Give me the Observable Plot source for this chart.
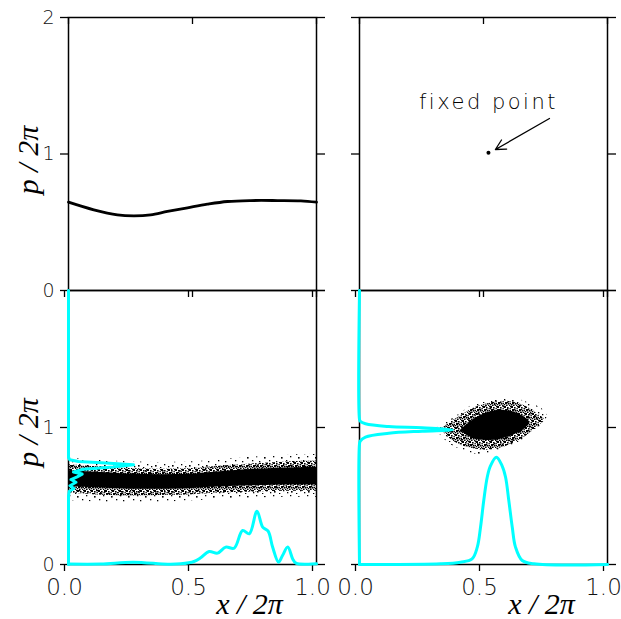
<!DOCTYPE html>
<html><head><meta charset="utf-8">
<script src="https://cdn.jsdelivr.net/npm/d3@7"></script>
<script src="https://cdn.jsdelivr.net/npm/@observablehq/plot@0.6"></script>
<style>
html,body{margin:0;padding:0;background:#fff;}
#chart{position:relative;width:621px;height:619px;}
#chart svg{position:absolute;left:0;top:0;overflow:visible;}
</style></head><body><div id="chart"></div>
<script>
const W = 621, H = 619;

// ticks
const xTicks = [0, 0.5, 1];
const xTickLabels = ["0.0", "0.5", "1.0"];
const yTicksTop = [0, 1, 2];
const yTicksBottom = [0, 1];
const yTickLabels = ["0", "1", "2"];
const yTitle = "p / 2π";
const xTitle = "x / 2π";

// top-left: invariant curve
const curveX = [0, 0.102, 0.197, 0.264, 0.331, 0.399, 0.48, 0.56, 0.641, 0.735, 0.843, 0.937, 1.0];
const curveP = [0.647, 0.591, 0.554, 0.547, 0.554, 0.579, 0.606, 0.632, 0.652, 0.659, 0.659, 0.657, 0.647];

// top-right: fixed point annotation
const fixedLabel = ["fixed point"];
const fixedX = [0.52];
const fixedP = [1.01];
const arrowFromX = [0.766], arrowFromP = [1.26];
const arrowToX = [0.548], arrowToP = [1.033];

// bottom-left: noisy band (outer, middle, core envelopes)
const bandX    = [0, 0.1, 0.25, 0.4, 0.5, 0.6, 0.75, 0.9, 1];
const bandOutHi = [0.78, 0.765, 0.75, 0.745, 0.75, 0.765, 0.785, 0.80, 0.805];
const bandOutLo = [0.465, 0.455, 0.445, 0.455, 0.465, 0.475, 0.485, 0.49, 0.49];
const bandMidHi = [0.73, 0.715, 0.70, 0.695, 0.70, 0.715, 0.735, 0.75, 0.755];
const bandMidLo = [0.52, 0.51, 0.50, 0.505, 0.51, 0.52, 0.53, 0.535, 0.535];
const bandCoreHi = [0.685, 0.675, 0.66, 0.655, 0.66, 0.675, 0.695, 0.705, 0.71];
const bandCoreLo = [0.565, 0.56, 0.55, 0.55, 0.555, 0.565, 0.575, 0.58, 0.58];

// bottom-left marginals
const margLX = [0, 0.13, 0.26, 0.40, 0.4525, 0.506, 0.533, 0.567, 0.601, 0.634, 0.668, 0.702, 0.729, 0.760, 0.783, 0.805, 0.823, 0.847, 0.863, 0.884, 0.904, 0.917, 0.964, 1.0];
const margLXd = [0.003, 0.003, 0.017, 0.002, 0.005, 0.022, 0.049, 0.095, 0.083, 0.127, 0.119, 0.248, 0.224, 0.389, 0.273, 0.243, 0.127, 0.017, 0.066, 0.127, 0.041, 0.010, 0.002, 0.005];
const margLP = [0, 0.50, 0.535, 0.555, 0.575, 0.60, 0.62, 0.64, 0.66, 0.675, 0.695, 0.712, 0.728, 0.74, 0.752, 0.765, 0.78, 2];
const margLPd = [0, 0, 0.003, 0.022, 0.006, 0.03, 0.01, 0.035, 0.055, 0.02, 0.06, 0.18, 0.262, 0.15, 0.04, 0.005, 0, 0];

// bottom-right: cloud around fixed point
const cloudOutX  = [0.306, 0.333, 0.372, 0.42, 0.454, 0.52, 0.59, 0.64, 0.683, 0.737, 0.757];
const cloudOutHi = [0.99, 1.025, 1.06, 1.12, 1.16, 1.19, 1.21, 1.205, 1.18, 1.135, 1.09];
const cloudOutLo = [0.99, 0.93, 0.87, 0.83, 0.81, 0.805, 0.85, 0.89, 0.935, 1.02, 1.07];
const cloudMidX  = [0.33, 0.36, 0.41, 0.46, 0.52, 0.57, 0.62, 0.67, 0.71, 0.745];
const cloudMidHi = [0.985, 1.03, 1.085, 1.14, 1.175, 1.19, 1.185, 1.155, 1.11, 1.065];
const cloudMidLo = [0.985, 0.925, 0.87, 0.845, 0.835, 0.85, 0.885, 0.935, 0.99, 1.045];
const cloudCoreX  = [0.41, 0.44, 0.48, 0.52, 0.56, 0.60, 0.64, 0.67, 0.685];
const cloudCoreHi = [0.985, 1.03, 1.08, 1.11, 1.125, 1.12, 1.10, 1.07, 1.045];
const cloudCoreLo = [0.975, 0.935, 0.91, 0.905, 0.91, 0.93, 0.96, 0.995, 1.025];

// bottom-right marginals
const margRX  = [0, 0.327, 0.407, 0.454, 0.475, 0.488, 0.501, 0.515, 0.528, 0.552, 0.575, 0.589, 0.602, 0.616, 0.629, 0.656, 0.703, 1];
const margRXd = [0, 0.005, 0.017, 0.041, 0.127, 0.272, 0.467, 0.637, 0.72, 0.783, 0.72, 0.637, 0.467, 0.272, 0.127, 0.029, 0.005, 0];
const margRP  = [0, 0.88, 0.90, 0.93, 0.958, 0.973, 0.983, 0.998, 1.007, 1.027, 1.045, 1.06, 2];
const margRPd = [0, 0, 0.003, 0.024, 0.118, 0.253, 0.374, 0.253, 0.118, 0.024, 0.003, 0, 0];

// ---- build tables ----
const zipXY = (xs, ys) => xs.map((x, i) => ({x, y: ys[i]}));
const zipBand = (xs, hi, lo) => xs.map((x, i) => ({x, y1: lo[i], y2: hi[i]}));

const CYAN = "#00ffff";
const tickFont = "DejaVu Sans";
const titleFont = "Liberation Serif";

const chart = document.getElementById("chart");

// speckle patterns for the dense scatter clouds
const defsSvg = d3.select(chart).append("svg").attr("width", 0).attr("height", 0);
const defs = defsSvg.append("defs");
function pattern(id, w, h, pts) {
  const p = defs.append("pattern").attr("id", id).attr("width", w).attr("height", h).attr("patternUnits", "userSpaceOnUse");
  pts.forEach(([x, y, s]) => p.append("rect").attr("x", x).attr("y", y).attr("width", s || 1.3).attr("height", s || 1.3).attr("fill", "#000"));
}
pattern("speckleSparse", 17, 13, [[1,1],[9,2,1.6],[4,6],[14,5],[2,10,1.6],[11,9],[7,12],[15,11]]);
pattern("speckleDense", 7, 7, [[0,0,2],[3,1,1.6],[1,3,2],[4,4,1.6],[5.5,2],[2,5.5,1.6],[0,5],[3,3],[6,0],[5,6],[6,4]]);

function frameMarks(frameW, frameH, bottomLabels, leftLabels, leftTicks) {
  return [
    Plot.frame({stroke: "black", strokeWidth: 1.5}),
    Plot.tickX(xTicks, {x: d => d, insetBottom: frameH - 7, stroke: "black", strokeWidth: 1.3}),
    Plot.axisX(xTicks, {anchor: "bottom", tickSize: 7, tickPadding: 7, strokeWidth: 1.3, dx: -4,
      tickFormat: bottomLabels ? (d => xTickLabels[xTicks.indexOf(d)]) : (() => ""),
      fontSize: 23, fontFamily: tickFont, fontWeight: 200, fill: "#111", label: null}),
    Plot.axisY(leftTicks, {anchor: "left", tickSize: 8, tickPadding: 6, strokeWidth: 1.3,
      tickFormat: leftLabels ? (d => yTickLabels[d]) : (() => ""),
      fontSize: 19, fontFamily: tickFont, fontWeight: 200, fill: "#111", label: null}),
    Plot.axisY(yTicksTop, {anchor: "right", tickSize: 8, strokeWidth: 1.3, tickFormat: () => "", label: null})
  ];
}

function panel(left, right, top, bottom, marks) {
  const svg = Plot.plot({
    width: W, height: H,
    marginLeft: left, marginRight: W - right, marginTop: top, marginBottom: H - bottom,
    x: {domain: [0, 1], axis: null},
    y: {domain: [0, 2], axis: null},
    style: {background: "transparent", overflow: "visible"},
    marks
  });
  chart.appendChild(svg);
  return svg;
}

const L = [68, 316], R = [359, 607], T = [17, 290], B = [290, 564];
const fw = 248, fhT = 273, fhB = 274;

// top-left
panel(L[0], L[1], T[0], T[1], [
  ...frameMarks(fw, fhT, false, true, yTicksTop),
  Plot.line(zipXY(curveX, curveP), {x: "x", y: "y", stroke: "black", strokeWidth: 2.8, curve: "catmull-rom"}),
  Plot.text([yTitle], {text: d => d, frameAnchor: "left", dx: -40, dy: 6, rotate: -90, fontSize: 30,
    fontStyle: "italic", fontFamily: titleFont, textAnchor: "middle", lineAnchor: "middle", fill: "#000"})
]);

// top-right
const trSvg = panel(R[0], R[1], T[0], T[1], [
  ...frameMarks(fw, fhT, false, false, yTicksTop),
  Plot.dot(zipXY(fixedX, fixedP), {x: "x", y: "y", r: 2, fill: "black", stroke: null}),
  Plot.arrow([{x1: arrowFromX[0], y1: arrowFromP[0], x2: arrowToX[0], y2: arrowToP[0]}],
    {x1: "x1", y1: "y1", x2: "x2", y2: "y2", stroke: "black", strokeWidth: 1.3, headLength: 13, headAngle: 55}),
  Plot.text(fixedLabel.map((t, i) => ({t, x: fixedX[i], y: fixedP[i]})), {x: "x", y: "y", text: "t", dx: 0, dy: -44,
    lineAnchor: "bottom", textAnchor: "middle", fontSize: 21, fontFamily: tickFont, fontWeight: 200, fill: "#000"})
]);
d3.select(trSvg).selectAll("text").filter(function() { return this.textContent === "fixed point"; })
  .attr("letter-spacing", "2.5px");

// bottom-left
panel(L[0], L[1], B[0], B[1], [
  ...frameMarks(fw, fhB, true, true, yTicksBottom),
  Plot.areaY(zipBand(bandX, bandOutHi, bandOutLo), {x: "x", y1: "y1", y2: "y2", fill: "url(#speckleSparse)", curve: "catmull-rom", clip: true}),
  Plot.areaY(zipBand(bandX, bandMidHi, bandMidLo), {x: "x", y1: "y1", y2: "y2", fill: "url(#speckleDense)", curve: "catmull-rom", clip: true}),
  Plot.areaY(zipBand(bandX, bandCoreHi, bandCoreLo), {x: "x", y1: "y1", y2: "y2", fill: "#000", curve: "catmull-rom", clip: true}),
  Plot.line(zipXY(margLX, margLXd), {x: "x", y: "y", stroke: CYAN, strokeWidth: 3, curve: "catmull-rom"}),
  Plot.line(margLP.map((p, i) => ({x: margLPd[i], y: p})), {x: "x", y: "y", stroke: CYAN, strokeWidth: 3, curve: "linear"}),
  Plot.text([yTitle], {text: d => d, frameAnchor: "left", dx: -40, dy: 5, rotate: -90, fontSize: 30,
    fontStyle: "italic", fontFamily: titleFont, textAnchor: "middle", lineAnchor: "middle", fill: "#000"}),
  Plot.text([xTitle], {text: d => d, frameAnchor: "bottom", dx: 57, dy: 49, fontSize: 30,
    fontStyle: "italic", fontFamily: titleFont, textAnchor: "middle", lineAnchor: "bottom", fill: "#000"})
]);

// bottom-right
panel(R[0], R[1], B[0], B[1], [
  ...frameMarks(fw, fhB, true, false, yTicksBottom),
  Plot.areaY(zipBand(cloudOutX, cloudOutHi, cloudOutLo), {x: "x", y1: "y1", y2: "y2", fill: "url(#speckleSparse)", curve: "catmull-rom"}),
  Plot.areaY(zipBand(cloudMidX, cloudMidHi, cloudMidLo), {x: "x", y1: "y1", y2: "y2", fill: "url(#speckleDense)", curve: "catmull-rom"}),
  Plot.areaY(zipBand(cloudCoreX, cloudCoreHi, cloudCoreLo), {x: "x", y1: "y1", y2: "y2", fill: "#000", curve: "catmull-rom"}),
  Plot.line(zipXY(margRX, margRXd), {x: "x", y: "y", stroke: CYAN, strokeWidth: 3, curve: "catmull-rom"}),
  Plot.line(margRP.map((p, i) => ({x: margRPd[i], y: p})), {x: "x", y: "y", stroke: CYAN, strokeWidth: 3, curve: "catmull-rom"}),
  Plot.text([xTitle], {text: d => d, frameAnchor: "bottom", dx: 58, dy: 49, fontSize: 30,
    fontStyle: "italic", fontFamily: titleFont, textAnchor: "middle", lineAnchor: "bottom", fill: "#000"})
]);
</script></body></html>
